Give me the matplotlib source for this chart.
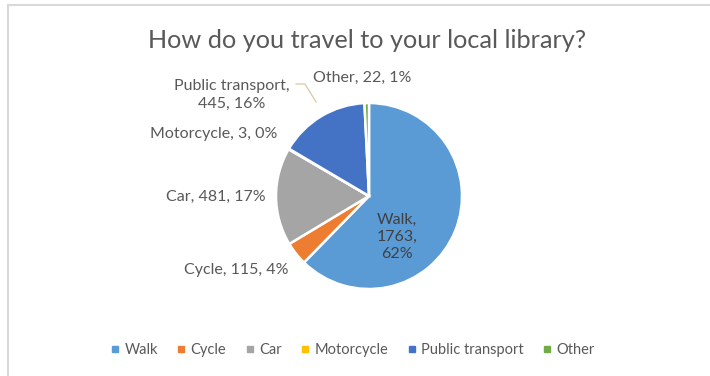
import matplotlib
matplotlib.use("Agg")
import matplotlib.pyplot as plt
from matplotlib.lines import Line2D

plt.rcParams['font.family'] = ['Lato', 'DejaVu Sans']

# survey answers
modes = ["Walk", "Cycle", "Car", "Motorcycle", "Public transport", "Other"]
counts = [1763, 115, 481, 3, 445, 22]
colours = ["#5B9BD5", "#ED7D31", "#A5A5A5", "#FFC000", "#4472C4", "#70AD47"]

total = sum(counts)
pcts = [round(c / total * 100) for c in counts]

W, H = 710, 376
fig = plt.figure(figsize=(W / 100, H / 100), dpi=100)
ax = fig.add_axes([0, 0, 1, 1])

cx, cy, r = 369, H - 196, 93
ax.pie(counts, colors=colours, startangle=90, counterclock=False,
       center=(cx, cy), radius=r,
       wedgeprops=dict(edgecolor="white", linewidth=1.8))
ax.set_xlim(0, W)
ax.set_ylim(0, H)
ax.set_aspect("equal")
ax.axis("off")

txt = "#595959"
ax.text(367, H - 40, "How do you travel to your local library?",
        ha="center", va="center", fontsize=18.2, color=txt)

# data labels (anchor points measured from the top edge)
lab_pos = {
    "Walk": (397, 237),
    "Cycle": (236, 270),
    "Car": (216, 197),
    "Motorcycle": (214, 134),
    "Public transport": (232, 95),
    "Other": (362, 78),
}
fs = 11.5
for name, c, p in zip(modes, counts, pcts):
    x, y = lab_pos[name]
    if name == "Walk":
        ax.text(x, H - y, f"{name},\n{c},\n{p}%", ha="center", va="center",
                fontsize=fs, color="#404040", linespacing=1.3)
    elif name == "Public transport":
        ax.text(x, H - y, f"{name},\n{c}, {p}%", ha="center", va="center",
                fontsize=fs, color=txt, linespacing=1.4)
    else:
        ax.text(x, H - y, f"{name}, {c}, {p}%", ha="center", va="center",
                fontsize=fs, color=txt)

# leader line for the public transport label
ax.plot([296, 305, 316], [H - 84, H - 84, H - 102], color="#d8c9a6", lw=0.9)

# legend
handles = [Line2D([], [], marker="s", ls="", markersize=4.5, color=c) for c in colours]
fig.legend(handles, modes, loc="center", bbox_to_anchor=(353 / W, 1 - 350 / H),
           ncol=6, frameon=False, fontsize=10.5, labelcolor=txt,
           handlelength=0.5, handletextpad=0.4, columnspacing=1.35)

# chart area border
fig.add_artist(Line2D([8 / W, 8 / W], [0, 1 - 5 / H], transform=fig.transFigure,
                      color="#D9D9D9", lw=1.5))
fig.add_artist(Line2D([8 / W, 1], [1 - 5 / H, 1 - 5 / H], transform=fig.transFigure,
                      color="#D9D9D9", lw=1.5))

fig.savefig("out.png", dpi=100, facecolor="white")
